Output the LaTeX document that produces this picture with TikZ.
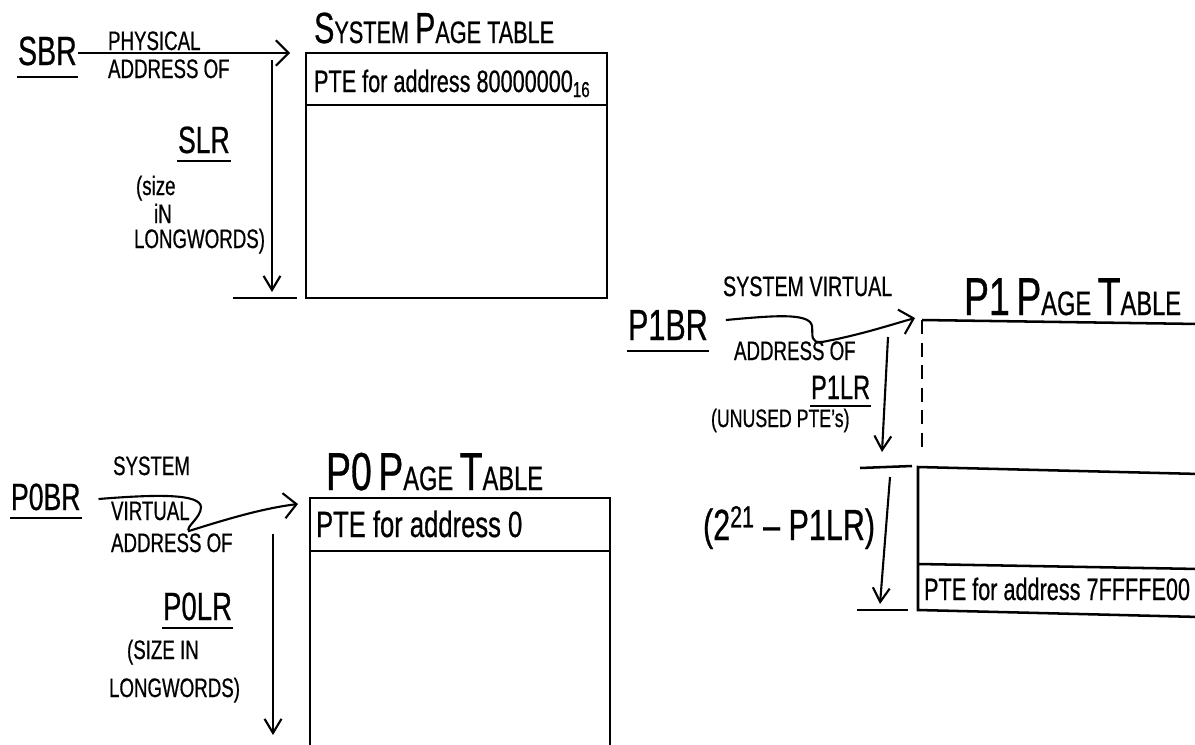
\documentclass[tikz,border=0pt]{standalone}
\usepackage{fontspec}
\setmainfont{Liberation Sans}[FakeStretch=0.7,FakeBold=0.6]
\usetikzlibrary{arrows.meta,positioning,calc}

\newcommand{\fsz}[1]{\fontsize{#1}{#1}\selectfont}
\newcommand{\bigch}[2]{{\fsz{#1}#2}}

\begin{document}
\begin{tikzpicture}[x=0.025cm,y=-0.025cm,line width=1.5pt,
  arr/.style={-{Straight Barb[length=9pt,width=18pt]}},
  darr/.style={-{Straight Barb[length=10pt,width=12pt]}},
  lbl/.style={inner sep=0pt,anchor=base west,font=\fsz{19}},
  reg/.style={inner sep=0pt,anchor=base west,font=\fsz{#1}},
  ul/.style={text depth=#1,append after command={(\tikzlastnode.south west) edge[line width=1.5pt] (\tikzlastnode.south east)}},
  tab/.style={line width=1.8pt}]
  \useasboundingbox (0,0) rectangle (1195,744);

  % system page table
  \node[reg=29,ul=8pt] (sbr) at (17,65) {SBR};
  \node[lbl] (sphys) at (107,50) {PHYSICAL};
  \node[lbl] (saddr) at (107,78) {ADDRESS OF};
  \node[reg=22] (stitle) at (313,43) {\bigch{31}{S}YSTEM \bigch{31}{P}AGE TABLE};
  \coordinate (stl) at (306,53);
  \coordinate (sin) at (290,53);
  \draw[tab] (stl) rectangle (607,298);
  \draw[tab] (306,105) -- (607,105);
  \node[reg=22] (spte) at (313,92) {PTE for address 80000000\textsubscript{16}};
  \draw[arr] (sbr.east |- sin) -- (sin);

  \coordinate (slrtop) at (272,60);
  \coordinate (slrbot) at (272,292);
  \draw[darr] (slrtop) -- (slrbot);
  \draw (233,298) -- (297,298);
  \node[reg=27,ul=5pt] (slr) at (177,153) {SLR};
  \node[lbl] (ssize1) at (135,195) {(size};
  \node[lbl] (ssize2) at (153,223) {iN};
  \node[lbl] (ssize3) at (133,248) {LONGWORDS)};

  % P0 page table
  \node[reg=27,ul=5pt] (p0br) at (10,510) {P0BR};
  \node[lbl] (p0sys) at (112,475) {SYSTEM};
  \node[lbl] (p0virt) at (110,520) {VIRTUAL};
  \node[lbl] (p0addr) at (110,552) {ADDRESS OF};
  \node[reg=24] (p0title) at (325,490) {\bigch{38}{P0} \bigch{38}{P}AGE \bigch{38}{T}ABLE};
  \coordinate (p0tl) at (310,498);
  \coordinate (p0in) at (298,504);
  \draw[tab] (310,750) -- (p0tl) -- (610,498) -- (610,750);
  \draw[tab] (310,551) -- (610,551);
  \node[reg=26] (p0pte) at (315,537) {PTE for address 0};
  \draw[arr] ($(p0br.base east)+(17,-11)$) .. controls (160,494) and (200,494) .. (201,507)
    .. controls (201,518) and (185,527) .. (189,531) .. controls (230,518) and (265,508) .. (p0in);

  \coordinate (p0lrtop) at (273,534);
  \coordinate (p0lrbot) at (273,735);
  \draw[darr] (p0lrtop) -- (p0lrbot);
  \node[reg=28,ul=5pt] (p0lr) at (162,620) {P0LR};
  \node[lbl] (p0size1) at (126,659) {(SIZE IN};
  \node[lbl] (p0size2) at (108,697) {LONGWORDS)};

  % P1 page table
  \node[reg=31,ul=7pt] (p1br) at (627,340) {P1BR};
  \node[reg=20] (p1sys) at (722,296) {SYSTEM VIRTUAL};
  \node[lbl] (p1addr) at (733,360) {ADDRESS OF};
  \node[reg=24] (p1title) at (963,315) {\bigch{38}{P1} \bigch{38}{P}AGE \bigch{38}{T}ABLE};
  \coordinate (p1tl) at (922,320);
  \coordinate (p1in) at (915,318);
  \draw[tab] (p1tl) -- (1200,324);
  \draw[tab,dash pattern=on 10pt off 6pt] (p1tl) -- (922,449);
  \draw[tab] (860,468) -- (912,466);
  \draw[tab] (1200,474) -- (918,467) -- (918,610) -- (1200,617);
  \draw[tab] (918,564) -- (1200,569);
  \draw[tab] (857,610) -- (908,610);
  \node[reg=22] (p1pte) at (923,600) {PTE for address 7FFFFE00};
  \draw[arr] ($(p1br.base east)+(17,-20)$) .. controls (770,316) and (810,312) .. (812,326)
    .. controls (813,336) and (810,343) .. (822,342) .. controls (860,335) and (890,325) .. (p1in);

  \coordinate (p1lrtop) at (888,337);
  \coordinate (p1lrbot) at (882,452);
  \draw[darr] (p1lrtop) -- (p1lrbot);
  \coordinate (p1resttop) at (890,477);
  \coordinate (p1restbot) at (880,604);
  \draw[darr] (p1resttop) -- (p1restbot);
  \node[reg=24,ul=4pt] (p1lr) at (810,399) {P1LR};
  \node[reg=18] (p1unused) at (710,427) {(UNUSED PTE's)};
  \node[reg=31] (p1rest) at (702,540) {(2\textsuperscript{21} -- P1LR)};
\end{tikzpicture}
\end{document}
